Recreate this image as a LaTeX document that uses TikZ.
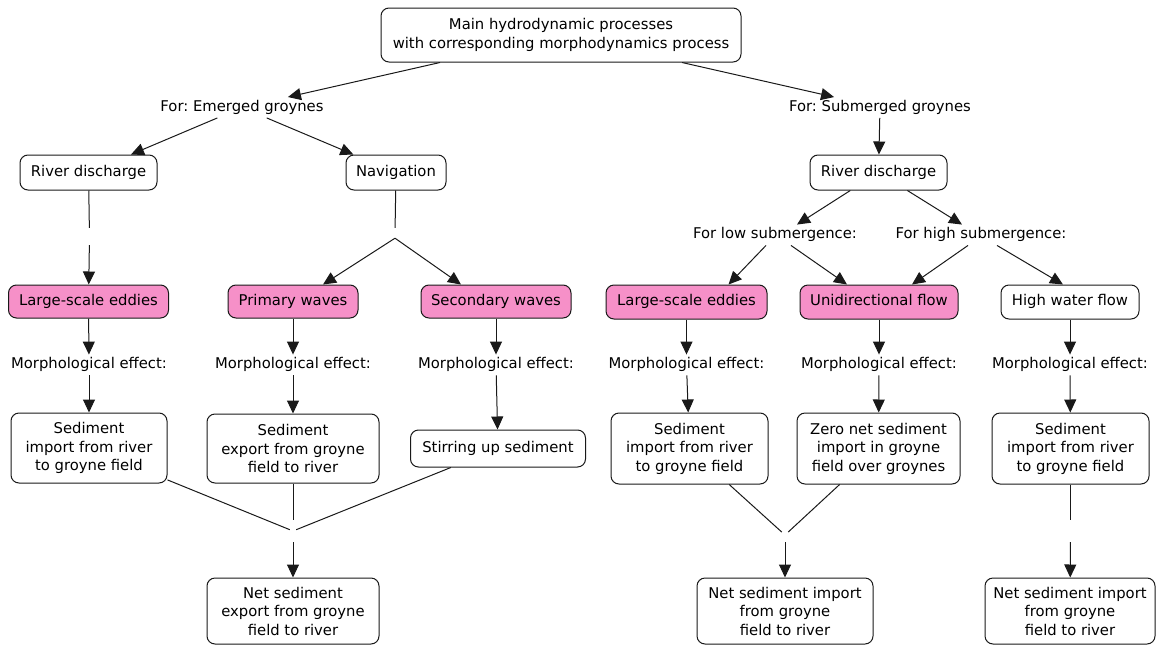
\documentclass[tikz,border=0pt]{standalone}
\usepackage{fontspec}
\setmainfont{DejaVu Sans}
\usetikzlibrary{arrows.meta}
\definecolor{pinkc}{RGB}{246,144,200}
\definecolor{linec}{RGB}{25,25,25}
\frenchspacing
\begin{document}
\begin{tikzpicture}[x=1pt,y=-1pt,
  font=\fontsize{14.8}{18.5}\selectfont\frenchspacing,
  box/.style={draw=linec, line width=1pt, rounded corners=8pt, align=center, inner sep=0pt, fill=white},
  one/.style={text height=11pt, text depth=3.5pt},
  pinkbox/.style={box, one, fill=pinkc},
  lab/.style={inner xsep=2pt, inner ysep=3pt, text height=11pt, text depth=3.5pt},
  jn/.style={inner sep=0pt, minimum width=4pt},
  ln/.style={draw=linec, line width=1pt},
  arr/.style={ln, -{Triangle[length=13pt,width=12pt]}}
]
\useasboundingbox (0,0) rectangle (1156,645);

% top
\node[box, minimum width=360pt, minimum height=54pt] (top) at (561,35) {Main hydrodynamic processes\\with corresponding morphodynamics process};
\node[lab] (em) at (242,107.5) {For: Emerged groynes};
\node[lab] (sub) at (880,107.5) {For: Submerged groynes};

% level 2
\node[box, one, minimum width=137pt, minimum height=35pt] (rd1) at (88.5,172.5) {River discharge};
\node[box, one, minimum width=100pt, minimum height=35pt] (nav) at (396,172.5) {Navigation};
\node[box, one, minimum width=137pt, minimum height=35pt] (rd2) at (878.5,172.5) {River discharge};
\node[lab] (low) at (775,235) {For low submergence:};
\node[lab] (high) at (981,235) {For high submergence:};
\node[jn, minimum height=17pt] (j1) at (89.5,236.5) {};
\node[jn, minimum height=10pt] (j2) at (395,233) {};

% processes
\node[pinkbox, minimum width=160pt, minimum height=33pt] (lse1) at (88.5,301.5) {Large-scale eddies};
\node[pinkbox, minimum width=130pt, minimum height=33pt] (pw) at (293,301.5) {Primary waves};
\node[pinkbox, minimum width=150pt, minimum height=33pt] (sw) at (496,301.5) {Secondary waves};
\node[pinkbox, minimum width=161pt, minimum height=34pt] (lse2) at (686.5,302) {Large-scale eddies};
\node[pinkbox, minimum width=158pt, minimum height=34pt] (uf) at (879,302) {Unidirectional flow};
\node[box, one, minimum width=138pt, minimum height=34pt] (hwf) at (1070,302) {High water flow};

% morphological labels
\node[lab] (m1) at (89,365) {Morphological effect:};
\node[lab] (m2) at (293,365) {Morphological effect:};
\node[lab] (m3) at (496,365) {Morphological effect:};
\node[lab] (m4) at (686.5,365) {Morphological effect:};
\node[lab] (m5) at (879,365) {Morphological effect:};
\node[lab] (m6) at (1070,365) {Morphological effect:};

% effects
\node[box, minimum width=156pt, minimum height=70pt] (s1) at (89,448) {Sediment\\import from river\\to groyne field};
\node[box, minimum width=172pt, minimum height=69pt] (s2) at (293,448.5) {Sediment\\export from groyne\\field to river};
\node[box, one, minimum width=175pt, minimum height=37pt] (s3) at (498,448.5) {Stirring up sediment};
\node[box, minimum width=157pt, minimum height=71pt] (s4) at (689.5,448.5) {Sediment\\import from river\\to groyne field};
\node[box, minimum width=163pt, minimum height=71pt] (s5) at (878.5,448.5) {Zero net sediment\\import in groyne\\field over groynes};
\node[box, minimum width=157pt, minimum height=71pt] (s6) at (1070.5,448.5) {Sediment\\import from river\\to groyne field};

\node[jn, minimum width=6pt, minimum height=22pt] (j3) at (293,531) {};
\node[jn, minimum width=6pt, minimum height=14pt] (j4) at (785,535) {};
\node[jn, minimum height=22pt] (j5) at (1070.5,531) {};

% net results
\node[box, minimum width=172pt, minimum height=66pt] (n1) at (293,611) {Net sediment\\export from groyne\\field to river};
\node[box, minimum width=176pt, minimum height=66pt] (n2) at (785,611) {Net sediment import\\from groyne\\field to river};
\node[box, minimum width=170pt, minimum height=66pt] (n3) at (1070,611) {Net sediment import\\from groyne\\field to river};

% connectors
\draw[arr] (top) -- (em);
\draw[arr] (top) -- (sub);
\draw[arr] (em) -- (rd1);
\draw[arr] (em) -- (nav);
\draw[arr] (sub) -- (rd2);
\draw[ln] (rd1) -- (j1);
\draw[arr] (j1) -- (lse1);
\draw[ln] (nav) -- (j2);
\draw[arr] (j2.south) -- ([xshift=30pt]pw.north);
\draw[arr] (j2.south) -- ([xshift=-35pt]sw.north);
\draw[arr] (rd2) -- ([xshift=22pt]low.north);
\draw[arr] (rd2) -- ([xshift=-19pt]high.north);
\draw[arr] ([xshift=-9pt]low.south) -- ([xshift=42pt]lse2.north);
\draw[arr] ([xshift=16pt]low.south) -- ([xshift=-32pt]uf.north);
\draw[arr] ([xshift=-13pt]high.south) -- ([xshift=33pt]uf.north);
\draw[arr] ([xshift=16pt]high.south) -- ([xshift=-7pt]hwf.north);

\draw[arr] (lse1) -- (m1);
\draw[arr] (pw) -- (m2);
\draw[arr] (sw) -- (m3);
\draw[arr] (lse2) -- (m4);
\draw[arr] (uf) -- (m5);
\draw[arr] (hwf) -- (m6);

\draw[arr] (m1) -- (s1);
\draw[arr] (m2) -- (s2);
\draw[arr] (m3) -- (s3);
\draw[arr] (m4) -- (s4);
\draw[arr] (m5) -- (s5);
\draw[arr] (m6) -- (s6);

\draw[ln] (s1) -- (j3);
\draw[ln] (s2) -- (j3);
\draw[ln] (s3) -- (j3);
\draw[arr] (j3) -- (n1);
\draw[ln] (s4) -- (j4);
\draw[ln] (s5) -- (j4);
\draw[arr] (j4) -- (n2);
\draw[ln] (s6) -- (j5);
\draw[arr] (j5) -- (n3);
\end{tikzpicture}
\end{document}
